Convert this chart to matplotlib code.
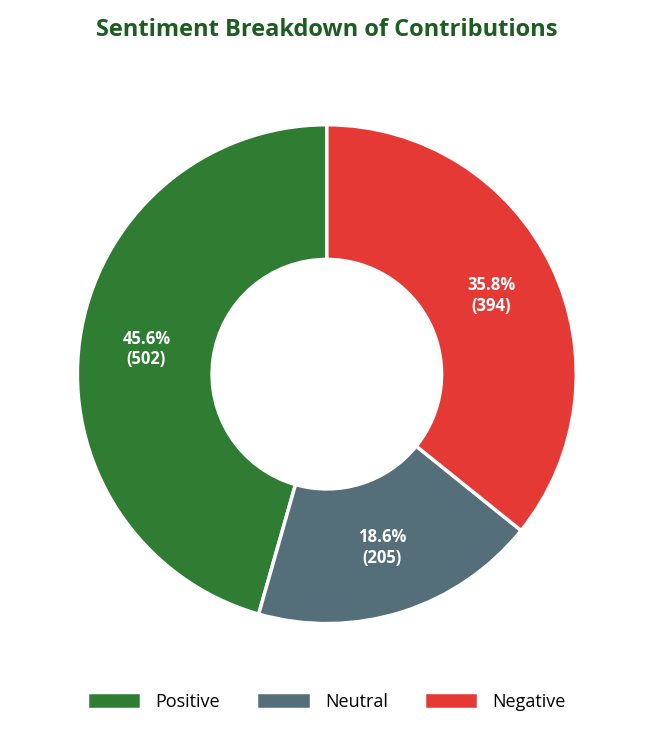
import matplotlib.pyplot as plt

labels = ['Positive', 'Neutral', 'Negative']
counts = [502, 205, 394]
colors = ['#2e7d32', '#546e7a', '#e53935']

plt.rcParams['font.family'] = ['Open Sans', 'Noto Sans', 'DejaVu Sans']

fig = plt.figure(figsize=(6.53, 7.38), dpi=100)
ax = fig.add_axes([0.118, 0.155, 0.765, 0.676])
total = sum(counts)

wedges, texts, autotexts = ax.pie(
    counts, colors=colors, startangle=90, counterclock=True, radius=1.25,
    wedgeprops=dict(width=0.675, edgecolor='white', linewidth=2.5),
    autopct=lambda p: '{:.1f}%\n({:d})'.format(p, int(round(p * total / 100))),
    pctdistance=0.73, textprops=dict(color='white', fontsize=12, fontweight='bold'))
ax.set_aspect('equal')

fig.suptitle('Sentiment Breakdown of Contributions', y=0.975,
             fontsize=17, fontweight='bold', color='#1b5e20')
fig.legend(wedges, labels, loc='lower center', ncol=3, frameon=False,
           bbox_to_anchor=(0.5, 0.015), fontsize=13, handlelength=3.0,
           handleheight=1.0, columnspacing=2.0)
fig.savefig('out.png', dpi=100)
